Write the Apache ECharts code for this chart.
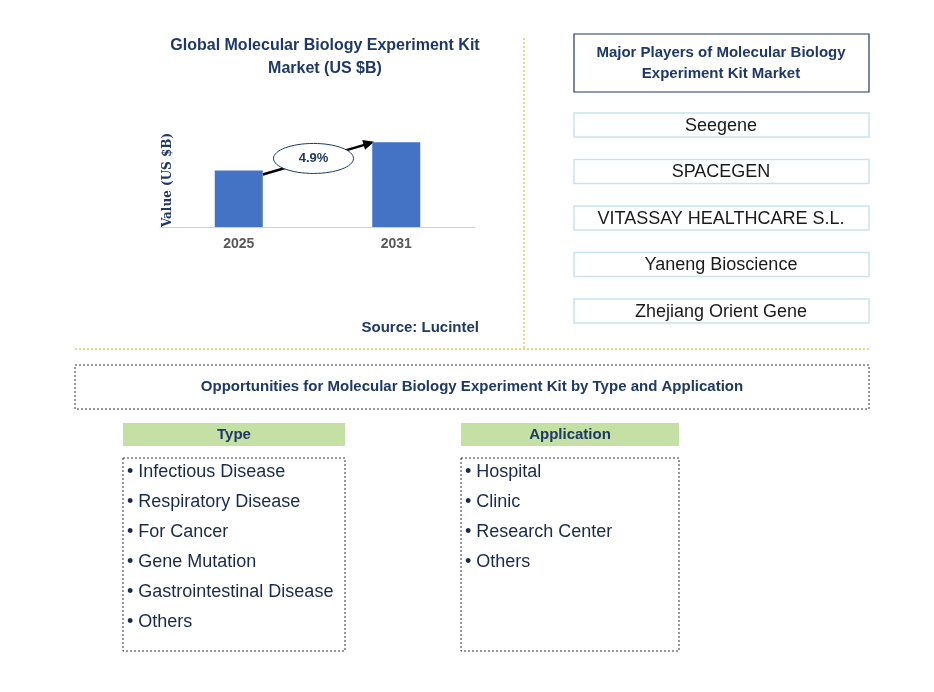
<!DOCTYPE html>
<html><head><meta charset="utf-8">
<script src="https://cdn.jsdelivr.net/npm/echarts@6/dist/echarts.min.js"></script>
<style>html,body{margin:0;background:#fff}#c{width:934px;height:692px}</style>
</head><body><div id="c"></div>
<script>
const years = ['2025', '2031'];
const values = [2.0, 3.0];
const cagr = '4.9%';
const players = ['Seegene', 'SPACEGEN', 'VITASSAY HEALTHCARE S.L.', 'Yaneng Bioscience', 'Zhejiang Orient Gene'];
const types = ['Infectious Disease', 'Respiratory Disease', 'For Cancer', 'Gene Mutation', 'Gastrointestinal Disease', 'Others'];
const applications = ['Hospital', 'Clinic', 'Research Center', 'Others'];

const navy = '#1f3864';
const font = 'Arial, "Liberation Sans", sans-serif';
const chart = echarts.init(document.getElementById('c'));

function listBox(x, w, title, items) {
    const els = [
        { type: 'rect', shape: { x: x, y: 423, width: w, height: 23 }, style: { fill: '#c5e0a5' } },
        { type: 'text', x: x + w / 2, y: 435, style: { text: title, font: 'bold 15px ' + font, fill: navy, align: 'center', verticalAlign: 'middle' } },
        { type: 'rect', shape: { x: x, y: 458, width: w, height: 193 }, style: { fill: 'none', stroke: '#333', lineWidth: 1, lineDash: [2, 2] } }
    ];
    items.forEach((t, i) => els.push({ type: 'text', x: x + 4, y: 472 + i * 30,
        style: { text: '• ' + t, font: '18px ' + font, fill: '#1a2a4a', verticalAlign: 'middle' } }));
    return els;
}

const graphics = [
    { type: 'text', x: 325, y: 57, style: { text: 'Global Molecular Biology Experiment Kit\nMarket (US $B)', font: 'bold 16px ' + font, fill: navy, align: 'center', verticalAlign: 'middle', lineHeight: 23 } },
    { type: 'text', x: 168, y: 180, rotation: Math.PI / 2, style: { text: 'Value (US $B)', font: 'bold 12px "DejaVu Serif", serif', fill: navy, align: 'center', verticalAlign: 'middle' } },
    { type: 'text', x: 479, y: 328, style: { text: 'Source: Lucintel', font: 'bold 15px ' + font, fill: navy, align: 'right', verticalAlign: 'middle' } },
    { type: 'line', shape: { x1: 524, y1: 38, x2: 524, y2: 348 }, style: { stroke: '#e8a400', lineWidth: 1, lineDash: [2, 2] } },
    { type: 'line', shape: { x1: 75, y1: 349, x2: 869, y2: 349 }, style: { stroke: '#e8a400', lineWidth: 1, lineDash: [2, 2] } },
    { type: 'rect', shape: { x: 574, y: 34, width: 295, height: 58 }, style: { fill: 'none', stroke: navy, lineWidth: 1.2 } },
    { type: 'text', x: 721, y: 63, style: { text: 'Major Players of Molecular Biology\nExperiment Kit Market', font: 'bold 15px ' + font, fill: navy, align: 'center', verticalAlign: 'middle', lineHeight: 21 } },
    { type: 'rect', shape: { x: 75, y: 365, width: 794, height: 44 }, style: { fill: 'none', stroke: '#333', lineWidth: 1, lineDash: [2, 2] } },
    { type: 'text', x: 472, y: 387, style: { text: 'Opportunities for Molecular Biology Experiment Kit by Type and Application', font: 'bold 15px ' + font, fill: navy, align: 'center', verticalAlign: 'middle' } }
];
players.forEach((p, i) => {
    const cy = 125 + i * 46.5;
    graphics.push({ type: 'rect', shape: { x: 574, y: cy - 12, width: 295, height: 24 }, style: { fill: '#fff', stroke: '#c9e2f2', lineWidth: 1.5 } });
    graphics.push({ type: 'text', x: 721, y: cy + 1, style: { text: p, font: '18px ' + font, fill: '#1a1a1a', align: 'center', verticalAlign: 'middle' } });
});
graphics.push(...listBox(123, 222, 'Type', types), ...listBox(461, 218, 'Application', applications));

chart.setOption({
    animation: false,
    grid: { left: 160, right: 459, top: 100, bottom: 465 },
    xAxis: { type: 'category', data: years, axisTick: { show: false },
        axisLine: { lineStyle: { color: '#d0d0d0' } },
        axisLabel: { fontFamily: font, fontWeight: 'bold', fontSize: 14, color: '#595959', margin: 10 } },
    yAxis: { type: 'value', min: 0, max: 4.5,
        axisLine: { show: false }, axisTick: { show: false }, axisLabel: { show: false }, splitLine: { show: false } },
    series: [{ type: 'bar', data: values, barWidth: 48, itemStyle: { color: '#4472c4' } }],
    graphic: graphics
});

// CAGR arrow between bar tops
const p1 = chart.convertToPixel({ seriesIndex: 0 }, [0, values[0]]);
const p2 = chart.convertToPixel({ seriesIndex: 0 }, [1, values[1]]);
const a = [p1[0] + 24, p1[1] + 4], b = [p2[0] - 24, p2[1]];
const mx = (a[0] + b[0]) / 2 - 4, my = (a[1] + b[1]) / 2;
chart.setOption({ graphic: graphics.concat([
    { type: 'line', shape: { x1: a[0], y1: a[1], x2: b[0] - 6, y2: b[1] + 2 }, style: { stroke: '#000', lineWidth: 2.5 } },
    { type: 'polygon', x: b[0], y: b[1], rotation: -Math.atan2(b[1] - a[1], b[0] - a[0]),
        shape: { points: [[2, 0], [-9, -5], [-9, 5]] }, style: { fill: '#000' } },
    { type: 'ellipse', shape: { cx: mx, cy: my, rx: 40, ry: 15 }, style: { fill: '#fff', stroke: navy, lineWidth: 1 } },
    { type: 'text', x: mx, y: my, style: { text: cagr, font: 'bold 13px ' + font, fill: navy, align: 'center', verticalAlign: 'middle' } }
]) });
</script></body></html>
